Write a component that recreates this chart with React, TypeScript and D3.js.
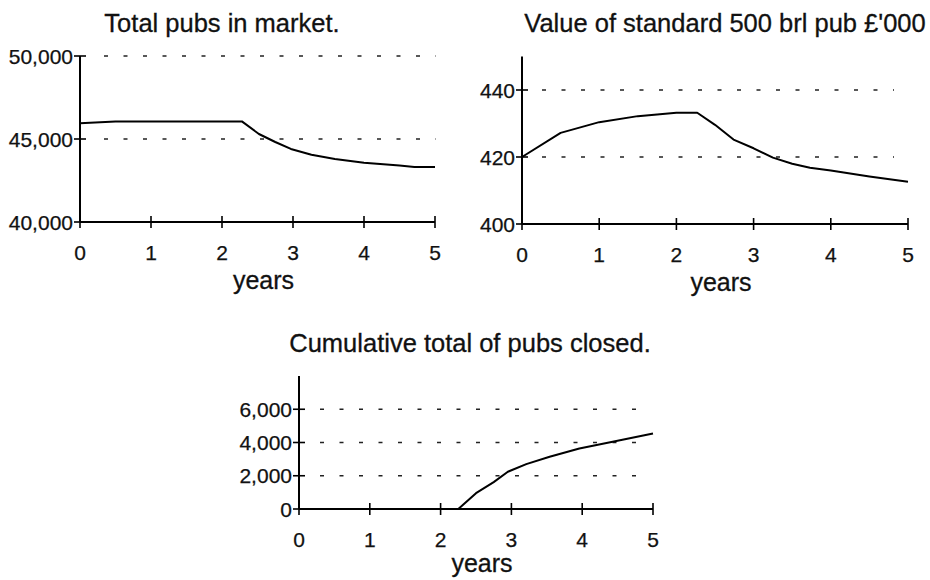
import React from "react";
import * as d3 from "d3";

// x values (years) and series
const pubYears = [0, 0.5, 1, 1.5, 2, 2.28, 2.52, 2.75, 2.97, 3.26, 3.59, 4, 4.5, 4.71, 5];
const pubsInMarket = [45950, 46060, 46060, 46060, 46060, 46060, 45300, 44820, 44400, 44050, 43800, 43570, 43400, 43310, 43310];

const valueYears = [0, 0.5, 1, 1.5, 2, 2.27, 2.5, 2.74, 3, 3.25, 3.5, 3.73, 4, 4.5, 5];
const pubValue = [420, 427.2, 430.4, 432.2, 433.2, 433.2, 429.6, 425.2, 422.6, 419.8, 418, 416.8, 416, 414.2, 412.6];

const closedYears = [0, 2.25, 2.5, 2.75, 2.95, 3.21, 3.54, 3.96, 4.43, 5];
const pubsClosed = [0, 0, 950, 1620, 2240, 2700, 3140, 3640, 4040, 4540];

const yearTicks = [0, 1, 2, 3, 4, 5];
const pubTicks = [40000, 45000, 50000];
const valueTicks = [400, 420, 440];
const closedTicks = [0, 2000, 4000, 6000];

const FONT = "'Liberation Sans', Arial, Helvetica, sans-serif";
const fmt = d3.format(",");

type PanelProps = {
  title: string;
  titleX: number;
  titleY: number;
  xs: number[];
  ys: number[];
  xRange: [number, number];
  yDomain: [number, number];
  yRange: [number, number];
  yTicks: number[];
  gridTicks: number[];
  gridX: [number, number];
  yearsY: number;
};

const Panel = (p: PanelProps) => {
  const x = d3.scaleLinear().domain([0, 5]).range(p.xRange);
  const y = d3.scaleLinear().domain(p.yDomain).range(p.yRange);
  const line = d3
    .line<number>()
    .x((_, i) => x(p.xs[i]))
    .y((d) => y(d));
  const x0 = p.xRange[0];
  const yBase = y(p.yDomain[0]);
  return (
    <g fontFamily={FONT} fill="#111" stroke="none">
      <text x={p.titleX} y={p.titleY} textAnchor="middle" fontSize={25.5} stroke="#111" strokeWidth={0.3}>
        {p.title}
      </text>
      {/* dotted gridlines */}
      {p.gridTicks.map((t) => (
        <line
          key={"g" + t}
          x1={p.gridX[0]}
          x2={p.gridX[1]}
          y1={y(t)}
          y2={y(t)}
          stroke="#222"
          strokeWidth={1.3}
          strokeDasharray="4 15.5"
        />
      ))}
      {/* axes */}
      <line x1={x0} x2={x0} y1={y(p.yDomain[1])} y2={yBase} stroke="#000" strokeWidth={2} />
      <line x1={x0} x2={p.xRange[1]} y1={yBase} y2={yBase} stroke="#000" strokeWidth={2} />
      {p.yTicks.map((t) => (
        <g key={"y" + t}>
          <line x1={x0 - 6} x2={x0 + 6} y1={y(t)} y2={y(t)} stroke="#000" strokeWidth={1.6} />
          <text x={x0 - 7} y={y(t)} dy="0.36em" textAnchor="end" fontSize={21} stroke="#111" strokeWidth={0.25}>
            {fmt(t)}
          </text>
        </g>
      ))}
      {yearTicks.map((t) => (
        <g key={"x" + t}>
          <line x1={x(t)} x2={x(t)} y1={yBase - 6} y2={yBase + 6} stroke="#000" strokeWidth={1.6} />
          <text x={x(t)} y={yBase + 38} textAnchor="middle" fontSize={21} stroke="#111" strokeWidth={0.25}>
            {t}
          </text>
        </g>
      ))}
      <text
        x={(p.xRange[0] + p.xRange[1]) / 2 + 6}
        y={p.yearsY}
        textAnchor="middle"
        fontSize={25}
        stroke="#111"
        strokeWidth={0.3}
      >
        years
      </text>
      <path d={line(p.ys) || ""} fill="none" stroke="#000" strokeWidth={2} strokeLinejoin="round" />
    </g>
  );
};

export default function App() {
  return (
    <svg
      width={930}
      height={580}
      style={{ position: "absolute", left: 0, top: 0, background: "#fff" }}
    >
      <rect width={930} height={580} fill="#fff" />
      <Panel
        title="Total pubs in market."
        titleX={222}
        titleY={32}
        xs={pubYears}
        ys={pubsInMarket}
        xRange={[80, 435]}
        yDomain={[40000, 50000]}
        yRange={[222, 56]}
        yTicks={pubTicks}
        gridTicks={[45000, 50000]}
        gridX={[104, 436]}
        yearsY={289}
      />
      <Panel
        title="Value of standard 500 brl pub £'000"
        titleX={725}
        titleY={32}
        xs={valueYears}
        ys={pubValue}
        xRange={[522, 908]}
        yDomain={[400, 450]}
        yRange={[224, 56.5]}
        yTicks={valueTicks}
        gridTicks={[420, 440]}
        gridX={[542, 894]}
        yearsY={291}
      />
      <Panel
        title="Cumulative total of pubs closed."
        titleX={470}
        titleY={352}
        xs={closedYears}
        ys={pubsClosed}
        xRange={[299, 653]}
        yDomain={[0, 8000]}
        yRange={[509, 376]}
        yTicks={closedTicks}
        gridTicks={[2000, 4000, 6000]}
        gridX={[320, 636]}
        yearsY={572}
      />
    </svg>
  );
}
